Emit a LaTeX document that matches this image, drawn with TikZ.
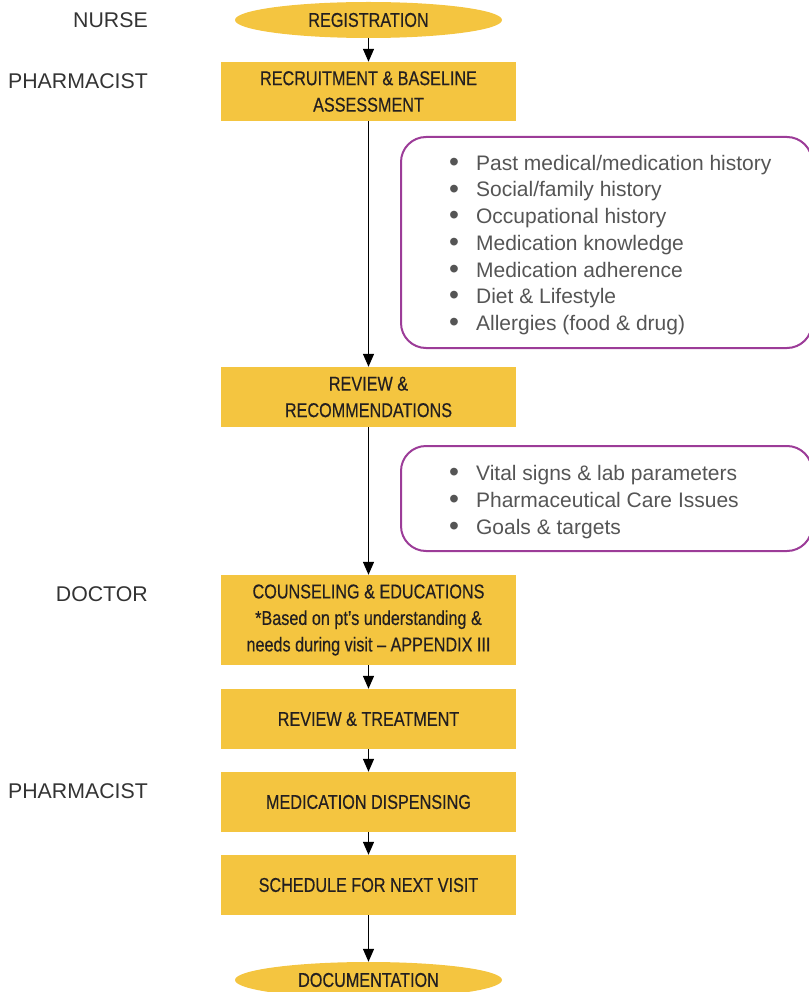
\documentclass[tikz,border=0pt]{standalone}
\usepackage{fontspec}
\setmainfont{Liberation Sans}
\newfontfamily\condf[FakeStretch=0.81,FakeBold=0.35]{Liberation Sans}
\usetikzlibrary{shapes.geometric,arrows.meta}
\definecolor{boxy}{HTML}{F4C540}
\definecolor{purp}{HTML}{9C3C98}
\definecolor{listg}{HTML}{555555}
\definecolor{roleg}{HTML}{333333}
\definecolor{boxtxt}{HTML}{231F20}
\newcommand{\bul}{\raisebox{-1.2pt}{\scalebox{1.35}{\textbullet}}}
\tikzset{
  stepbox/.style={fill=boxy, minimum width=295, minimum height=60, inner sep=0pt,
    align=center, text=boxtxt, font=\condf\fontsize{20}{26.5}\selectfont},
  termbox/.style={ellipse, fill=boxy, minimum width=267, minimum height=36, inner sep=0pt,
    text=boxtxt, font=\condf\fontsize{20}{22}\selectfont},
  role/.style={anchor=east, inner sep=0pt, text=roleg, font=\fontsize{21.3}{25}\selectfont},
  listframe/.style={draw=purp, line width=2pt, rounded corners=25pt, inner sep=0pt},
  listtext/.style={anchor=west, inner sep=0pt, text=listg, align=left,
    font=\fontsize{21}{26.7}\selectfont},
  flow/.style={-{Triangle[length=13pt,width=11pt]}, line width=1.3pt, draw=black}
}
\begin{document}
\begin{tikzpicture}[x=1pt,y=-1pt]
\useasboundingbox (0,0) rectangle (808,992);
% role labels
\node[role] (rnurse) at (148,20) {NURSE};
\node[role] (rpharm1) at (148,81) {PHARMACIST};
\node[role] (rdoc) at (148,594) {DOCTOR};
\node[role] (rpharm2) at (148,791) {PHARMACIST};
% flow nodes
\node[termbox] (reg) at (368.5,20) {REGISTRATION};
\node[stepbox, minimum height=59] (b1) at (368.5,91.5) {RECRUITMENT \& BASELINE\\ASSESSMENT};
\node[stepbox] (b2) at (368.5,397) {REVIEW \&\\RECOMMENDATIONS};
\node[stepbox, minimum height=90] (b3) at (368.5,620) {COUNSELING \& EDUCATIONS\\*Based on pt’s understanding \&\\needs during visit – APPENDIX III};
\node[stepbox] (b4) at (368.5,719) {REVIEW \& TREATMENT};
\node[stepbox] (b5) at (368.5,802) {MEDICATION DISPENSING};
\node[stepbox] (b6) at (368.5,885) {SCHEDULE FOR NEXT VISIT};
\node[termbox] (doc) at (368.5,980) {DOCUMENTATION};
% connectors
\draw[flow] (reg) -- (b1);
\draw[flow] (b1) -- (b2);
\draw[flow] (b2) -- (b3);
\draw[flow] (b3) -- (b4);
\draw[flow] (b4) -- (b5);
\draw[flow] (b5) -- (b6);
\draw[flow] (b6) -- (doc);
% side lists
\node[listframe, minimum width=411, minimum height=211] (p1) at (606.5,242.5) {};
\node[listtext] (l1) at (449,245) {\begin{tabular}{@{}l@{\hspace{17pt}}l@{}}
\bul & Past medical/medication history\\
\bul & Social/family history\\
\bul & Occupational history\\
\bul & Medication knowledge\\
\bul & Medication adherence\\
\bul & Diet \& Lifestyle\\
\bul & Allergies (food \& drug)
\end{tabular}};
\node[listframe, minimum width=411, minimum height=105] (p2) at (606.5,498.5) {};
\node[listtext] (l2) at (449,502) {\begin{tabular}{@{}l@{\hspace{17pt}}l@{}}
\bul & Vital signs \& lab parameters\\
\bul & Pharmaceutical Care Issues\\
\bul & Goals \& targets
\end{tabular}};
\end{tikzpicture}
\end{document}
